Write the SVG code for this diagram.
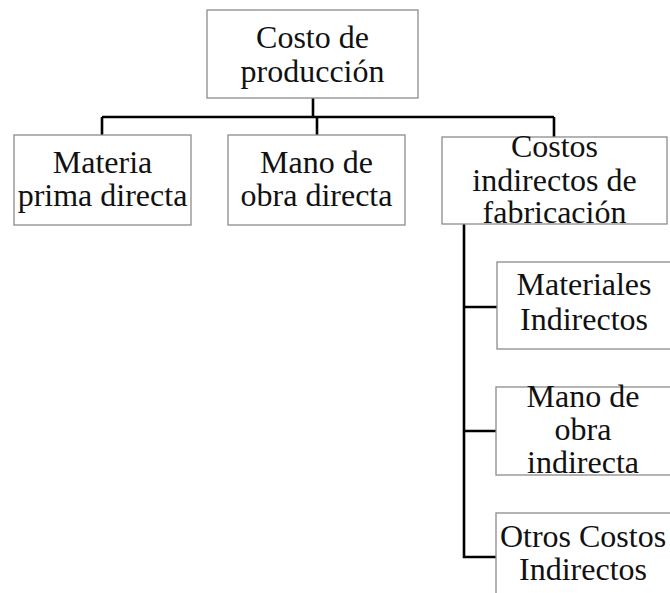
<svg xmlns="http://www.w3.org/2000/svg" width="670" height="593" viewBox="0 0 670 593">
<style>
.box{fill:#fff;stroke:#8c8c8c;stroke-width:1.3}
.t{font-size:32px;fill:#111;text-anchor:middle}
.c{fill:none;stroke:#000;stroke-width:2.6}
</style>
<rect width="670" height="593" fill="#fff"/>
<g id="connectors">
<path class="c" d="M313 98V117M102 117H554M102 117V135M317 117V135M554 117V137"/>
<path class="c" d="M464 224V557H497M464 307H497M464 431H497"/>
</g>
<g font-family="'Liberation Serif', 'Times New Roman', Times, 'DejaVu Serif', serif">
<g id="n-costo-produccion">
<rect class="box" x="207" y="10" width="211" height="88"/>
<text class="t" x="312.5" y="48">Costo de</text>
<text class="t" x="312.5" y="82">producción</text>
</g>
<g id="n-materia-prima">
<rect class="box" x="14" y="135" width="177" height="90"/>
<text class="t" x="102.5" y="173">Materia</text>
<text class="t" x="102.5" y="206">prima directa</text>
</g>
<g id="n-mano-obra-directa">
<rect class="box" x="228" y="135" width="177" height="90"/>
<text class="t" x="316.5" y="173">Mano de</text>
<text class="t" x="316.5" y="206">obra directa</text>
</g>
<g id="n-cif">
<rect class="box" x="442" y="137" width="225" height="87"/>
<text class="t" x="554.5" y="157">Costos</text>
<text class="t" x="554.5" y="191">indirectos de</text>
<text class="t" x="554.5" y="223">fabricación</text>
</g>
<g id="n-materiales-indirectos">
<rect class="box" x="497" y="262" width="176" height="87"/>
<text class="t" x="584" y="295">Materiales</text>
<text class="t" x="584" y="330">Indirectos</text>
</g>
<g id="n-mano-obra-indirecta">
<rect class="box" x="496" y="387" width="177" height="88"/>
<text class="t" x="583" y="407">Mano de</text>
<text class="t" x="583" y="440">obra</text>
<text class="t" x="583" y="473">indirecta</text>
</g>
<g id="n-otros-costos">
<rect class="box" x="496" y="513" width="177" height="88"/>
<text class="t" x="583" y="547">Otros Costos</text>
<text class="t" x="583" y="580">Indirectos</text>
</g>
</g>
</svg>
